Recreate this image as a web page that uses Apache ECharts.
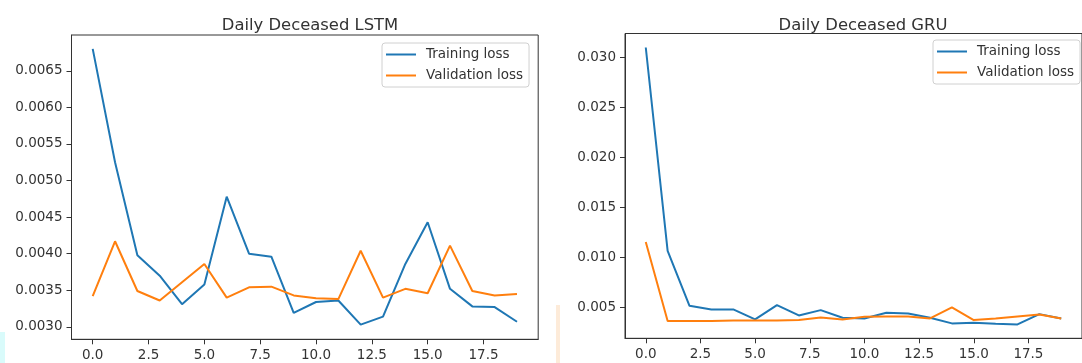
<!DOCTYPE html>
<html>
<head>
<meta charset="utf-8">
<script src="https://cdn.jsdelivr.net/npm/echarts@6/dist/echarts.min.js"></script>
<style>
html,body{margin:0;padding:0;background:#fff;}
#chart{width:1082px;height:363px;}
</style>
</head>
<body>
<div id="chart"></div>
<script>
var epochs = [0,1,2,3,4,5,6,7,8,9,10,11,12,13,14,15,16,17,18,19];
var lstmTrain = [0.00680,0.00525,0.00398,0.00370,0.00331,0.00358,0.00478,0.00400,0.00396,0.00319,
                 0.00334,0.00336,0.00303,0.00314,0.00386,0.00443,0.00352,0.00328,0.00327,0.00307];
var lstmVal = [0.00342,0.00417,0.00349,0.00336,0.00361,0.00386,0.00340,0.00354,0.00355,0.00343,
               0.00339,0.00338,0.00404,0.00340,0.00352,0.00346,0.00411,0.00349,0.00343,0.00345];
var gruTrain = [0.0310,0.01065,0.00516,0.00480,0.00480,0.00380,0.00523,0.00420,0.00473,0.00396,
                0.00390,0.00446,0.00440,0.00396,0.00340,0.00346,0.00337,0.00330,0.00433,0.00390];
var gruVal = [0.01155,0.00363,0.00364,0.00365,0.00370,0.00370,0.00370,0.00373,0.00400,0.00380,
              0.00406,0.00410,0.00410,0.00390,0.00500,0.00373,0.00390,0.00410,0.00430,0.00390];
var xTicks = [0,2.5,5,7.5,10,12.5,15,17.5];
var lstmTicks = [0.0030,0.0035,0.0040,0.0045,0.0050,0.0055,0.0060,0.0065];
var gruTicks = [0.005,0.010,0.015,0.020,0.025,0.030];

var blue = '#1f77b4', orange = '#ff7f0e';
var font = 'DejaVu Sans';

function pairs(ys){
	return epochs.map(function(x, i){ return [x, ys[i]]; });
}

function xAxis(idx){
	return {
		type: 'value', gridIndex: idx, min: -0.95, max: 19.95,
		splitLine: {show: false},
		axisLine: {onZero: false, lineStyle: {color: '#333', width: 1}},
		axisTick: {customValues: xTicks, length: 5, lineStyle: {color: '#333'}},
		axisLabel: {customValues: xTicks, margin: 9, color: '#333', fontFamily: font, fontSize: 13.5,
			formatter: function(v){ return v.toFixed(1); }}
	};
}

function yAxis(idx, min, max, ticks, dec){
	return {
		type: 'value', gridIndex: idx, min: min, max: max,
		splitLine: {show: false},
		axisLine: {show: true, onZero: false, lineStyle: {color: '#333', width: 1}},
		axisTick: {show: true, customValues: ticks, length: 5, lineStyle: {color: '#333'}},
		axisLabel: {customValues: ticks, margin: 9, color: '#333', fontFamily: font, fontSize: 13.5,
			formatter: function(v){ return v.toFixed(dec); }}
	};
}

function line(name, idx, ys, color){
	return {
		name: name, type: 'line', xAxisIndex: idx, yAxisIndex: idx,
		data: pairs(ys), showSymbol: false, symbol: 'none',
		lineStyle: {color: color, width: 2}, itemStyle: {color: color},
		animation: false
	};
}

function legend(left, top){
	return {
		orient: 'vertical', left: left, top: top,
		data: ['Training loss', 'Validation loss'],
		icon: 'rect', itemWidth: 30, itemHeight: 2, itemGap: 6,
		padding: [4, 6, 4, 4],
		backgroundColor: '#fff', borderColor: '#d0d0d0', borderWidth: 1, borderRadius: 3,
		textStyle: {fontFamily: font, fontSize: 13.5, color: '#333', padding: [0, 0, 0, 5], lineHeight: 15}
	};
}

var chart = echarts.init(document.getElementById('chart'), null, {renderer: 'canvas'});
chart.setOption({
	backgroundColor: '#fff',
	animation: false,
	title: [
		{text: 'Daily Deceased LSTM', left: 305, top: 13, textAlign: 'center',
			textStyle: {fontFamily: font, fontSize: 16.4, fontWeight: 'normal', color: '#333'}},
		{text: 'Daily Deceased GRU', left: 858, top: 13, textAlign: 'center',
			textStyle: {fontFamily: font, fontSize: 16.4, fontWeight: 'normal', color: '#333'}}
	],
	legend: [legend(382, 43), legend(933, 40)],
	grid: [
		{left: 71.5, top: 35, width: 466.7, height: 304.3, show: true, borderColor: '#333', borderWidth: 1, backgroundColor: 'transparent'},
		{left: 625, top: 33.5, width: 466.5, height: 304.8, show: true, borderColor: '#333', borderWidth: 1, backgroundColor: 'transparent'}
	],
	xAxis: [xAxis(0), xAxis(1)],
	yAxis: [yAxis(0, 0.00283, 0.00699, lstmTicks, 4), yAxis(1, 0.00191, 0.0324, gruTicks, 3)],
	series: [
		line('Training loss', 0, lstmTrain, blue),
		line('Validation loss', 0, lstmVal, orange),
		line('Training loss', 1, gruTrain, blue),
		line('Validation loss', 1, gruVal, orange)
	],
	graphic: [
		{type: 'rect', shape: {x: 0, y: 332, width: 5, height: 31}, style: {fill: '#d9fbfb'}, silent: true},
		{type: 'rect', shape: {x: 556, y: 305, width: 4, height: 58}, style: {fill: '#fdebd9'}, silent: true}
	]
});
</script>
</body>
</html>
